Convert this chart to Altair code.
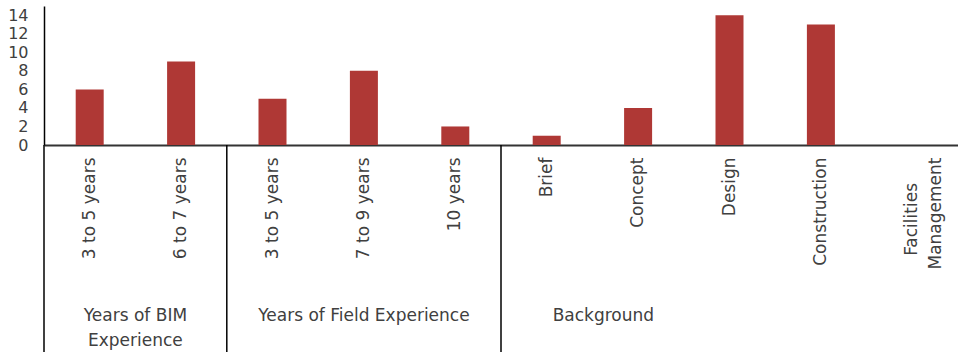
import altair as alt
import pandas as pd

# ---- data ----
groups = ["Years of BIM Experience"] * 2 + ["Years of Field Experience"] * 3 + ["Background"] * 5
labels = ["3 to 5 years", "6 to 7 years", "3 to 5 years", "7 to 9 years", "10 years",
          "Brief", "Concept", "Design", "Construction", "Facilities\nManagement"]
values = [6, 9, 5, 8, 2, 1, 4, 14, 13, 0]

group_names = ["Years of BIM\nExperience", "Years of Field Experience", "Background"]
group_start = [0, 2, 5]
group_label_pos = [1, 3.5, 6.12]

FONT = "DejaVu Sans"
TXT = "#404040"
BAR = "#AF3835"
PAD = "\u2002"

# display text: shorter line of a two-line label is padded so both lines look centred
def display(l):
    parts = l.split("\n")
    if len(parts) == 2:
        parts[0] = parts[0] + PAD * 3 + "\u200b"
    return "\n".join(parts)

keys = [f"{i}|{display(l)}" for i, l in enumerate(labels)]
bars_df = pd.DataFrame({"key": keys, "group": groups, "value": values})
sep_df = pd.DataFrame({"pos": group_start})
glab_df = pd.DataFrame({"pos": group_label_pos, "name": group_names})

W, H = 914, 139

bars = alt.Chart(bars_df).mark_bar(color=BAR, size=28).encode(
    x=alt.X("key:N", sort=keys, title=None,
            scale=alt.Scale(paddingInner=0, paddingOuter=0),
            axis=alt.Axis(labelAngle=270, labelExpr="split(split(datum.label, '|')[1], '\\n')",
                          ticks=False, labelPadding=12, labelFont=FONT, labelFontSize=17,
                          labelColor=TXT, domainColor="#333333", domainWidth=2,
                          labelLimit=0, labelLineHeight=24)),
    y=alt.Y("value:Q", title=None,
            scale=alt.Scale(domain=[0, 15], nice=False),
            axis=alt.Axis(values=[0, 2, 4, 6, 8, 10, 12, 14], ticks=False, grid=False,
                          labelPadding=16, labelFont=FONT, labelFontSize=16, labelColor=TXT,
                          domainColor="#000000", domainWidth=1.5)),
)

xq = alt.X("pos:Q", scale=alt.Scale(domain=[0, 10], nice=False, zero=False), axis=None)

seps = alt.Chart(sep_df).mark_rule(color="#000000", strokeWidth=1.5).encode(
    x=xq, y=alt.value(H), y2=alt.value(H + 207)
)

glabs = alt.Chart(glab_df).mark_text(font=FONT, fontSize=17, color=TXT, lineBreak="\n",
                                      baseline="alphabetic", align="center", lineHeight=25).encode(
    x=xq, y=alt.value(H + 176), text="name:N"
)

chart = alt.layer(bars, seps, glabs).resolve_scale(x="independent").properties(
    width=W, height=H,
    autosize=alt.AutoSizeParams(type="none"),
    padding={"left": 44, "top": 6, "right": 0, "bottom": 208},
).configure_view(stroke=None)

chart.save("out.html", embed_options={"renderer": "svg", "actions": False})
